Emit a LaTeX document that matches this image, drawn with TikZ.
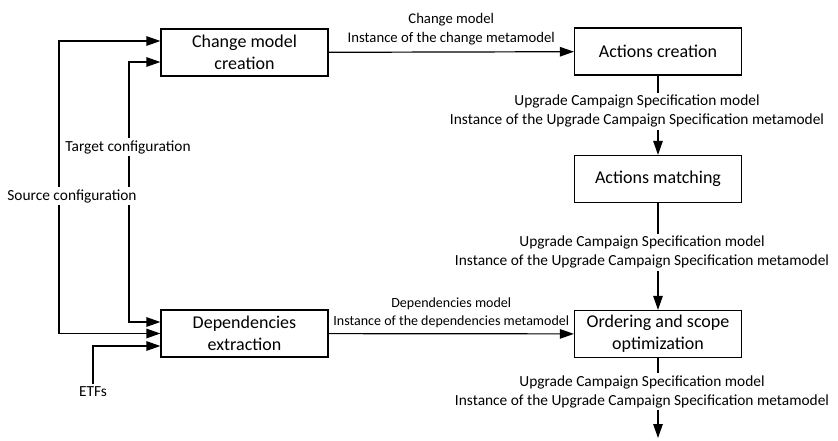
\documentclass[tikz,border=0pt]{standalone}
\usepackage{fontspec}
\setmainfont{Carlito}
\usetikzlibrary{arrows.meta}

\begin{document}
\begin{tikzpicture}[
  x=1pt,y=-1pt,
  box/.style={draw,line width=1.2pt,minimum width=167pt,minimum height=47pt,align=center,font=\fontsize{18}{22}\selectfont},
  lbl/.style={align=center,font=\fontsize{15.4}{19}\selectfont,inner sep=2.5pt},
  chglbl/.style={align=center,font=\fontsize{14.7}{19}\selectfont,inner sep=2pt},
  smalllbl/.style={align=center,font=\fontsize{14}{18}\selectfont,inner sep=2pt},
  arr/.style={line width=1.2pt,-{Triangle[length=14pt,width=9.5pt]}}
  ]
\useasboundingbox (0,0) rectangle (838,440);
\node[box] (chg) at (244.5,52.5) {Change model\\creation};
\node[box] (dep) at (244.5,333.5) {Dependencies\\extraction};
\node[box] (act) at (658,51.5) {Actions creation};
\node[box] (match) at (658,179) {Actions matching};
\node[box] (ord) at (658,334) {Ordering and scope\\optimization};
\coordinate (src) at (59,196);
\coordinate (tgt) at (129,147);
\coordinate (out) at (658,438);
% inputs on the left
\draw[arr] (src) |- ([yshift=11.5pt]chg.west);
\draw[arr] (src) |- (dep.west);
\draw[arr] (tgt) |- ([yshift=-9.5pt]chg.west);
\draw[arr] (tgt) |- ([yshift=11.5pt]dep.west);
\node[lbl,fill=white] (tgtlbl) at (128,147) {Target configuration};
\node[lbl,fill=white] (srclbl) at (72,196) {Source configuration};
\node[lbl] (etf) at (93,392) {ETFs};
\draw[arr] (etf.north) |- ([yshift=-12.5pt]dep.west);
% models passed between the steps
\draw[arr] (chg) -- node[chglbl,above=4pt] (chglbl) {Change model\\Instance of the change metamodel} (act);
\draw[arr] (dep) -- node[smalllbl,above=3pt] (deplbl) {Dependencies model\\Instance of the dependencies metamodel} (ord);
\draw[arr] (act) -- node[lbl,fill=white,pos=.45,xshift=-21pt] (ucs1) {Upgrade Campaign Specification model\\Instance of the Upgrade Campaign Specification metamodel} (match);
\draw[arr] (match) -- node[lbl,fill=white,pos=.46,xshift=-16pt] (ucs2) {Upgrade Campaign Specification model\\Instance of the Upgrade Campaign Specification metamodel} (ord);
\draw[arr] (ord) -- node[lbl,fill=white,pos=.42,xshift=-16pt] (ucs3) {Upgrade Campaign Specification model\\Instance of the Upgrade Campaign Specification metamodel} (out);
\end{tikzpicture}
\end{document}
